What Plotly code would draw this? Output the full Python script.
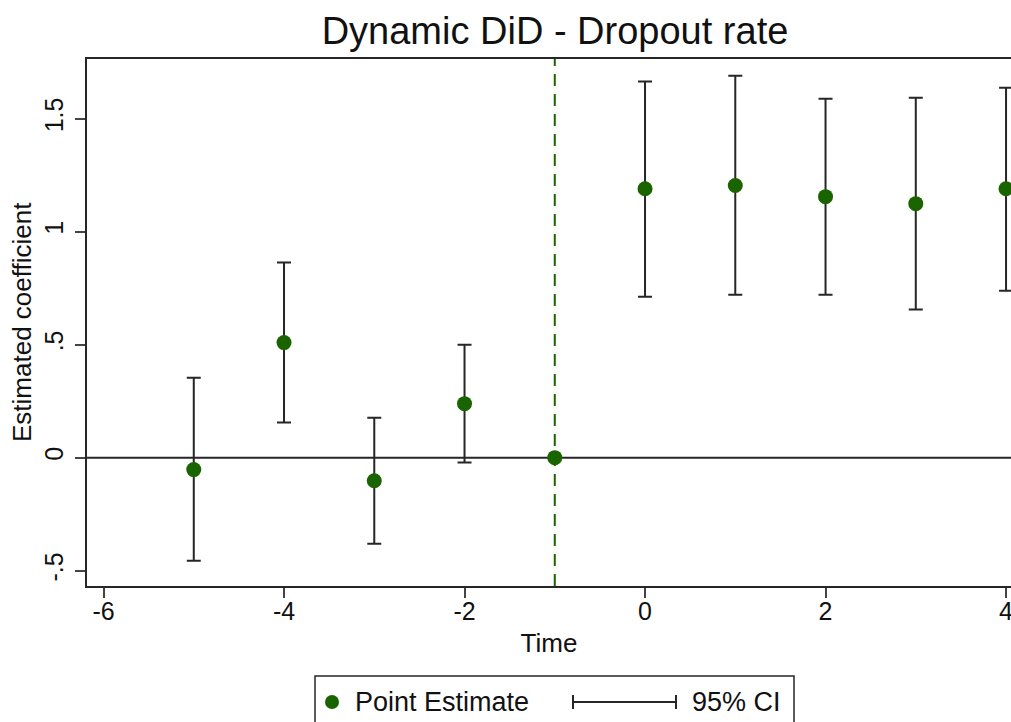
import plotly.graph_objects as go

# ---- data ----
time = [-5, -4, -3, -2, -1, 0, 1, 2, 3, 4]
estimate = [-0.053, 0.509, -0.102, 0.239, 0.0, 1.19, 1.204, 1.155, 1.124, 1.19]
ci_low = [-0.456, 0.155, -0.381, -0.022, None, 0.712, 0.721, 0.721, 0.655, 0.739]
ci_high = [0.354, 0.863, 0.177, 0.500, None, 1.664, 1.69, 1.588, 1.593, 1.637]
x_ticks = [-6, -4, -2, 0, 2, 4]
y_ticks = [-0.5, 0, 0.5, 1, 1.5]
y_ticktext = ["-.5", "0", ".5", "1", "1.5"]

GREEN = "#1a6400"
DARK = "#262626"
FONT = "Liberation Sans, Arial, sans-serif"

W, H = 1011, 722
PLOT_BOTTOM = 586  # page pixel of plot bottom
L, R, T = 87, 0, 59
B = H - PLOT_BOTTOM
pw, ph = W - L - R, H - T - B


def px_x(p):
    # page pixel -> paper x
    return (p - L) / pw


def px_y(p):
    # page pixel -> paper y
    return (H - B - p) / ph


fig = go.Figure()

# CI error bars (only where CI exists)
ci_x = [t for t, lo in zip(time, ci_low) if lo is not None]
ci_e = [e for e, lo in zip(estimate, ci_low) if lo is not None]
ci_plus = [hi - e for e, hi, lo in zip(estimate, ci_high, ci_low) if lo is not None]
ci_minus = [e - lo for e, lo in zip(estimate, ci_low) if lo is not None]
fig.add_trace(go.Scatter(
    x=ci_x, y=ci_e, mode="markers",
    marker=dict(size=1, color="rgba(0,0,0,0)"),
    error_y=dict(type="data", symmetric=False, array=ci_plus, arrayminus=ci_minus,
                 color=DARK, thickness=2, width=7),
    showlegend=False, hoverinfo="skip", cliponaxis=False,
))

# reference lines
fig.add_shape(type="line", xref="paper", yref="y", x0=0, x1=1, y0=0, y1=0,
              line=dict(color=DARK, width=2), layer="below")
fig.add_shape(type="line", xref="x", yref="paper", x0=-1, x1=-1, y0=0, y1=1,
              line=dict(color=GREEN, width=2, dash="12px,8px"), layer="below")

# point estimates
fig.add_trace(go.Scatter(
    x=time, y=estimate, mode="markers",
    marker=dict(size=15, color=GREEN, line=dict(width=0)),
    name="Point Estimate", showlegend=False, cliponaxis=False,
))

# y-axis title as annotation
fig.add_annotation(x=px_x(22), y=px_y(322), xref="paper", yref="paper",
                   text="Estimated coefficient", textangle=-90, showarrow=False,
                   xanchor="center", yanchor="middle",
                   font=dict(family=FONT, size=26, color="#111"))

# ---- custom legend ----
leg_y = 702
fig.add_shape(type="rect", xref="paper", yref="paper",
              x0=px_x(315), x1=px_x(794), y0=px_y(745), y1=px_y(676),
              line=dict(color=DARK, width=1.5), fillcolor="white")
fig.add_shape(type="circle", xref="paper", yref="paper",
              x0=px_x(325), x1=px_x(339), y0=px_y(709), y1=px_y(695),
              line=dict(width=0), fillcolor=GREEN)
fig.add_annotation(x=px_x(353), y=px_y(leg_y), xref="paper", yref="paper",
                   text="Point Estimate", showarrow=False, xanchor="left", yanchor="middle",
                   font=dict(family=FONT, size=27, color="#111"))
fig.add_shape(type="line", xref="paper", yref="paper",
              x0=px_x(573), x1=px_x(676), y0=px_y(leg_y), y1=px_y(leg_y),
              line=dict(color=DARK, width=2))
for cx in (573, 676):
    fig.add_shape(type="line", xref="paper", yref="paper",
                  x0=px_x(cx), x1=px_x(cx), y0=px_y(leg_y - 7), y1=px_y(leg_y + 7),
                  line=dict(color=DARK, width=2))
fig.add_annotation(x=px_x(690), y=px_y(leg_y), xref="paper", yref="paper",
                   text="95% CI", showarrow=False, xanchor="left", yanchor="middle",
                   font=dict(family=FONT, size=27, color="#111"))

fig.update_layout(
    width=W, height=H,
    margin=dict(l=L, r=R, t=T, b=B),
    paper_bgcolor="white", plot_bgcolor="white",
    font=dict(family=FONT, size=25, color="#111"),
    title=dict(text="Dynamic DiD - Dropout rate", x=555 / W, xref="container",
               xanchor="center", y=1 - 31 / H, yref="container", yanchor="middle",
               font=dict(family=FONT, size=38, color="#111")),
    showlegend=False,
)
fig.update_xaxes(
    range=[-6.183, 4.055], tickvals=x_ticks, ticktext=[str(v) for v in x_ticks],
    showgrid=False, zeroline=False, showline=True, mirror=True, linecolor=DARK, linewidth=2,
    ticks="outside", ticklen=10, tickwidth=2, tickcolor="#444",
    tickfont=dict(family=FONT, size=25), ticklabelstandoff=-8, ticklabeloverflow="allow",
    title=dict(text="Time", font=dict(family=FONT, size=26), standoff=10),
    automargin=False,
)
fig.update_yaxes(
    range=[-0.568, 1.764], tickvals=y_ticks, ticktext=y_ticktext, tickangle=-90,
    showgrid=False, zeroline=False, showline=True, mirror=False, linecolor=DARK, linewidth=2,
    ticks="outside", ticklen=10, tickwidth=2, tickcolor="#444",
    tickfont=dict(family=FONT, size=25), ticklabelstandoff=2,
    automargin=False,
)

# remove the default page margin so the figure sits at the window's top-left corner
page_css = ("document.body.style.margin='0';"
            "document.body.style.overflow='hidden';"
            "document.documentElement.style.overflow='hidden';")
fig.write_html("out.html", post_script=page_css, config={"displayModeBar": False})
